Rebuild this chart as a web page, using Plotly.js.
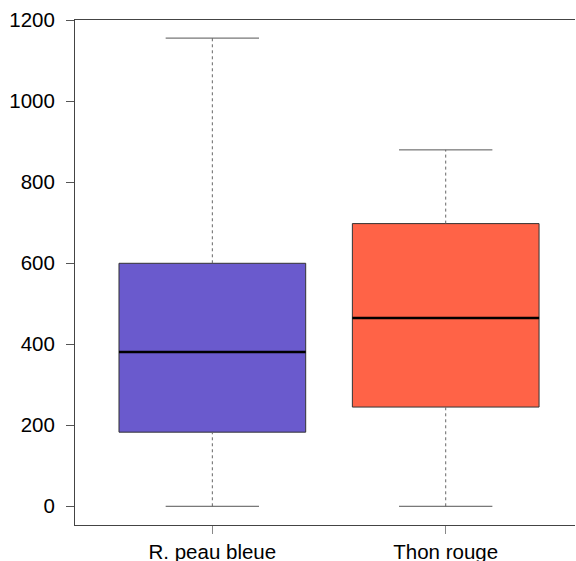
<!DOCTYPE html>
<html>
<head>
<meta charset="utf-8">
<script src="https://cdn.plot.ly/plotly-3.0.1.min.js"></script>
<style>html,body{margin:0;padding:0;background:#fff;}#chart{width:576px;height:561px;}</style>
</head>
<body>
<div id="chart"></div>
<script>
// Data
const categories = ["R. peau bleue", "Thon rouge"];
const positions = [1, 2];
const minVals = [0, 0];
const q1Vals = [183, 245];
const medianVals = [381, 465];
const q3Vals = [600, 698];
const maxVals = [1156, 880];
const colors = ["#6A5ACD", "#FF6347"];

const boxHalf = 0.4;
const capHalf = 0.2;

const traces = [];
categories.forEach((c, i) => {
  const x = positions[i];
  traces.push({
    type: "box", x: [x], q1: [q1Vals[i]], median: [medianVals[i]], q3: [q3Vals[i]],
    lowerfence: [q1Vals[i]], upperfence: [q3Vals[i]],
    width: boxHalf * 2, whiskerwidth: 0,
    fillcolor: colors[i], line: {color: "#333333", width: 1},
    hoverinfo: "skip", showlegend: false
  });
  // dashed whiskers
  traces.push({type: "scatter", mode: "lines", x: [x, x], y: [q3Vals[i], maxVals[i]],
    line: {color: "#666666", width: 1, dash: "3px,3px"}, showlegend: false, hoverinfo: "skip"});
  traces.push({type: "scatter", mode: "lines", x: [x, x], y: [minVals[i], q1Vals[i]],
    line: {color: "#666666", width: 1, dash: "3px,3px"}, showlegend: false, hoverinfo: "skip"});
  // caps
  traces.push({type: "scatter", mode: "lines", x: [x - capHalf, x + capHalf], y: [maxVals[i], maxVals[i]],
    line: {color: "#555555", width: 1}, showlegend: false, hoverinfo: "skip"});
  traces.push({type: "scatter", mode: "lines", x: [x - capHalf, x + capHalf], y: [minVals[i], minVals[i]],
    line: {color: "#555555", width: 1}, showlegend: false, hoverinfo: "skip"});
  // median
  traces.push({type: "scatter", mode: "lines", x: [x - boxHalf, x + boxHalf], y: [medianVals[i], medianVals[i]],
    line: {color: "#000000", width: 2.5}, showlegend: false, hoverinfo: "skip"});
});

const layout = {
  width: 576, height: 561,
  margin: {l: 75, r: 1, t: 20, b: 36, pad: 0},
  paper_bgcolor: "#ffffff", plot_bgcolor: "#ffffff",
  font: {family: "Liberation Sans, Arial, sans-serif", size: 20, color: "#000000"},
  showlegend: false,
  xaxis: {
    range: [0.4115, 2.554], tickvals: positions, ticktext: categories,
    showgrid: false, zeroline: false, showline: true, mirror: true,
    linecolor: "#444444", linewidth: 1,
    ticks: "outside", ticklen: 8, tickcolor: "#888888", tickwidth: 1,
    tickfont: {size: 20.5}, ticklabelstandoff: 0
  },
  yaxis: {
    range: [-46.2, 1200.7], tickvals: [0, 200, 400, 600, 800, 1000, 1200],
    showgrid: false, zeroline: false, showline: true, mirror: false,
    linecolor: "#444444", linewidth: 1,
    ticks: "outside", ticklen: 8, tickcolor: "#555555", tickwidth: 1,
    tickfont: {size: 20.5}, ticklabelstandoff: 7
  }
};

Plotly.newPlot("chart", traces, layout, {staticPlot: true, displayModeBar: false});
</script>
</body>
</html>
